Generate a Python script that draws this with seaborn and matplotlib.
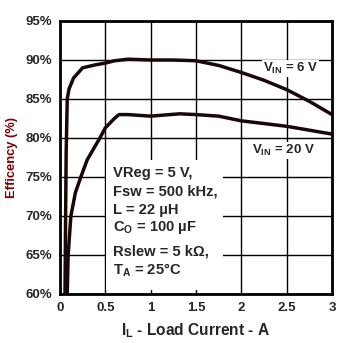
import matplotlib
matplotlib.use("Agg")
import matplotlib.pyplot as plt
from matplotlib.patches import Rectangle
import pandas as pd
import seaborn as sns

# Efficiency vs load current, two input voltages
load_6v = [0.055, 0.062, 0.068, 0.08, 0.1, 0.15, 0.25, 0.4, 0.5, 0.6, 0.75,
           1.0, 1.25, 1.5, 1.75, 2.0, 2.25, 2.5, 2.75, 3.0]
eff_6v = [60, 70, 78, 85, 86.3, 87.7, 89.0, 89.4, 89.6, 89.9, 90.1,
          90.0, 90.0, 89.9, 89.3, 88.4, 87.4, 86.2, 84.7, 83.0]

load_20v = [0.08, 0.09, 0.12, 0.17, 0.23, 0.3, 0.44, 0.5, 0.6, 0.65, 0.75,
            1.0, 1.32, 1.5, 1.75, 2.0, 2.5, 3.0]
eff_20v = [60, 65, 70, 73, 75, 77.2, 80, 81.3, 82.5, 83.0, 83.0,
           82.8, 83.1, 83.0, 82.8, 82.2, 81.5, 80.5]

x_ticks = [0, 0.5, 1, 1.5, 2, 2.5, 3]
x_tick_labels = ["0", "0.5", "1", "1.5", "2", "2.5", "3"]
y_ticks = [60, 65, 70, 75, 80, 85, 90, 95]
y_tick_labels = ["60%", "65%", "70%", "75%", "80%", "85%", "90%", "95%"]

conditions = ["VReg = 5 V,", "Fsw = 500 kHz,", "L = 22 µH",
              r"C$_\mathrm{O}$ = 100 µF", "Rslew = 5 kΩ,", r"T$_\mathrm{A}$ = 25°C"]

sns.set_style("white")
plt.rcParams["font.family"] = ["Liberation Sans", "DejaVu Sans"]
plt.rcParams["font.weight"] = "bold"
plt.rcParams["mathtext.fontset"] = "custom"
plt.rcParams["mathtext.rm"] = "Liberation Sans:bold"
plt.rcParams["mathtext.it"] = "Liberation Sans:bold"
plt.rcParams["mathtext.bf"] = "Liberation Sans:bold"

df = pd.concat([
    pd.DataFrame({"load": load_6v, "eff": eff_6v, "vin": "6 V"}),
    pd.DataFrame({"load": load_20v, "eff": eff_20v, "vin": "20 V"}),
])

fig = plt.figure(figsize=(3.59, 3.43), dpi=100)
ax = fig.add_axes([0.1671, 0.1429, 0.7577, 0.7959])

ink = "#1a0808"
sns.lineplot(data=df, x="load", y="eff", units="vin", estimator=None,
             sort=False, color=ink, linewidth=2.5, ax=ax, zorder=3,
             solid_capstyle="round", legend=False)

ax.set_xlim(0, 3)
ax.set_ylim(60, 95)
ax.set_xticks(x_ticks)
ax.set_xticklabels(x_tick_labels)
ax.set_yticks(y_ticks)
ax.set_yticklabels(y_tick_labels)
ax.tick_params(axis="y", length=0, labelsize=9.5, pad=6)
ax.tick_params(axis="x", length=0, labelsize=9.5, pad=6)
for lab in ax.get_xticklabels() + ax.get_yticklabels():
    lab.set_fontweight("bold")

ax.set_axisbelow(True)
ax.grid(True, color="black", linewidth=1.0)
for s in ax.spines.values():
    s.set_color("black")
    s.set_linewidth(2.0)
    s.set_zorder(5)

# white panel behind the operating conditions
ax.add_patch(Rectangle((0.51, 60.5), 1.29, 16.7, facecolor="white",
                       edgecolor="none", zorder=1.5))
y_pos = [75.5, 73.1, 70.8, 68.5, 65.4, 63.1]
for t, y in zip(conditions, y_pos):
    ax.text(0.58, y, t, fontsize=10.6, fontweight="bold", va="center",
            ha="left", zorder=4)

label_box = dict(facecolor="white", edgecolor="none", pad=0.5)
ax.text(2.24, 88.9, r"V$_\mathrm{IN}$ = 6 V", fontsize=9.5,
        fontweight="bold", va="center", ha="left", zorder=2.5, bbox=label_box)
ax.text(2.12, 78.4, r"V$_\mathrm{IN}$ = 20 V", fontsize=9.5,
        fontweight="bold", va="center", ha="left", zorder=2.5, bbox=label_box)

ax.set_xlabel(r"I$_\mathrm{L}$ - Load Current - A", fontsize=11.2,
              fontweight="bold", labelpad=5)
ax.set_ylabel("Efficency (%)", fontsize=9.3, fontweight="bold",
              color="#800000", labelpad=5)

fig.savefig("out.png", dpi=100)
